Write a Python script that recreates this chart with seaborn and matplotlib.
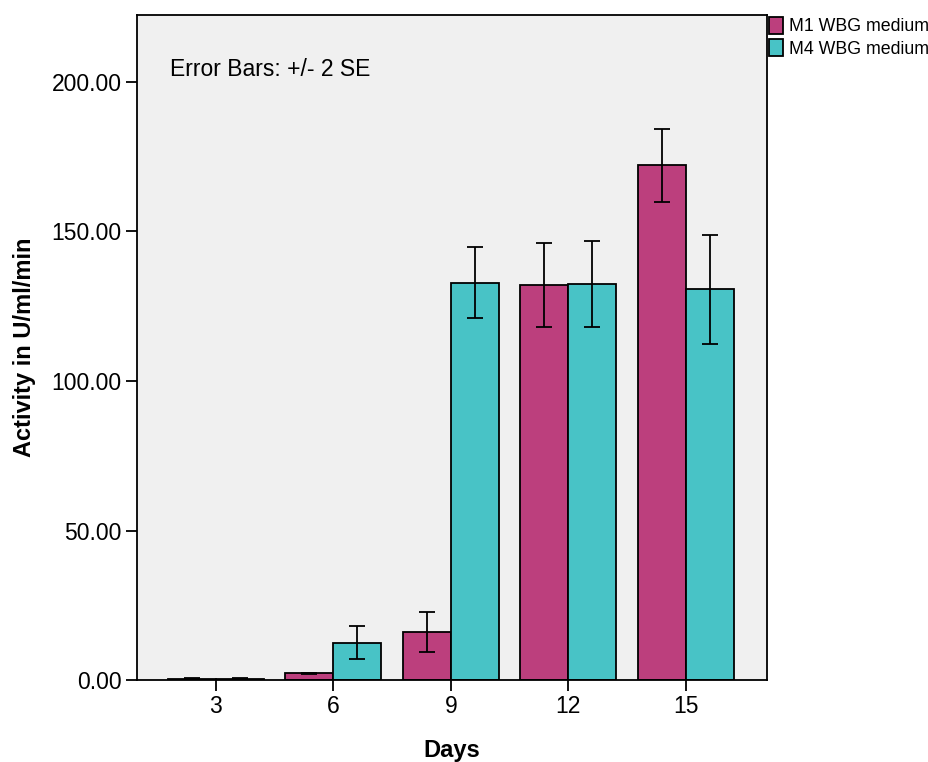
import matplotlib
matplotlib.use("Agg")
import matplotlib.pyplot as plt
import seaborn as sns
import pandas as pd
import numpy as np

days = ["3", "6", "9", "12", "15"]
groups = ["M1 WBG medium", "M4 WBG medium"]
m1_values = [0.4, 2.2, 15.9, 132.0, 172.1]
m4_values = [0.5, 12.5, 132.9, 132.5, 130.7]
m1_err = [0.2, 0.3, 6.7, 14.0, 12.2]
m4_err = [0.2, 5.5, 11.8, 14.3, 18.2]
y_ticks = [0, 50, 100, 150, 200]

colors = {"M1 WBG medium": "#BC3F7D", "M4 WBG medium": "#48C3C6"}

df = pd.DataFrame({
    "Days": days * 2,
    "Group": [groups[0]] * len(days) + [groups[1]] * len(days),
    "Activity": m1_values + m4_values,
})
errs = {groups[0]: m1_err, groups[1]: m4_err}

sns.set_style("white")
plt.rcParams["font.family"] = ["Liberation Sans", "DejaVu Sans"]
plt.rcParams["text.color"] = "black"
plt.rcParams["axes.labelcolor"] = "black"

fig = plt.figure(figsize=(9.29, 7.62), dpi=100)
ax = fig.add_axes([0.1475, 0.1076, 0.678, 0.8727])
ax.set_facecolor("#F0F0F0")

sns.barplot(data=df, x="Days", y="Activity", hue="Group", order=days,
            hue_order=groups, palette=colors, errorbar=None, width=0.82,
            edgecolor="black", linewidth=1.3, saturation=1, ax=ax, zorder=2)

for container, g in zip(ax.containers, groups):
    xs = [p.get_x() + p.get_width() / 2 for p in container]
    hs = [p.get_height() for p in container]
    ax.errorbar(xs, hs, yerr=errs[g], fmt="none", ecolor="black",
                elinewidth=1.3, capsize=6, capthick=1.3, zorder=3)

ax.set_xlim(-0.67, 4.69)
ax.set_ylim(0, 222.4)
ax.set_yticks(y_ticks)
ax.set_yticklabels([f"{v:.2f}" for v in y_ticks])
ax.tick_params(axis="both", direction="out", length=8, width=1.3,
               labelsize=16.5, colors="black", labelcolor="black", pad=3,
               left=True, bottom=True)
for s in ax.spines.values():
    s.set_color("black")
    s.set_linewidth(1.3)

ax.set_xlabel("Days", fontsize=17, fontweight="bold", labelpad=15, color="black")
ax.set_ylabel("Activity in U/ml/min", fontsize=17, fontweight="bold",
              labelpad=11, color="black")

ax.text(0.052, 0.918, "Error Bars: +/- 2 SE", transform=ax.transAxes,
        fontsize=16.5, va="center", ha="left", color="black")

leg = ax.legend(loc="upper left", bbox_to_anchor=(1.0, 1.0), frameon=False,
                fontsize=12.8, handlelength=0.8, handleheight=1.1,
                handletextpad=0.35, labelspacing=0.2, borderaxespad=0.0,
                borderpad=0.1)
for h in leg.legend_handles:
    h.set_edgecolor("black")
    h.set_linewidth(1.3)
for t in leg.get_texts():
    t.set_color("black")

fig.savefig("out.png", dpi=100)
